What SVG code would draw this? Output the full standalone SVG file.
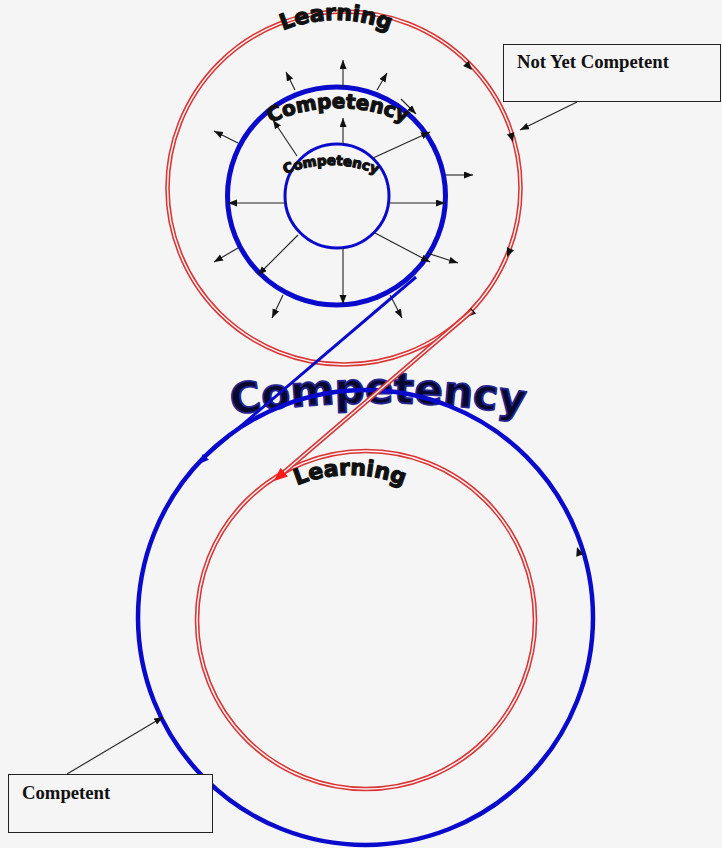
<svg xmlns="http://www.w3.org/2000/svg" xmlns:xlink="http://www.w3.org/1999/xlink" width="722" height="848" viewBox="0 0 722 848">
<style>
.red{fill:none;stroke:#dc3434;stroke-width:4.6}
.gap{fill:none;stroke:#f5f5f5;stroke-width:1.5}
.blue{fill:none;stroke:#0a0acc}
.ray{stroke:#222;stroke-width:1.1;fill:none;marker-end:url(#ah)}
.arc{font-family:"DejaVu Sans","Liberation Sans",sans-serif;font-weight:bold;fill:#111;stroke:#111;stroke-width:1.2;stroke-linejoin:round}
.big{font-family:"DejaVu Sans","Liberation Sans",sans-serif;font-weight:bold;font-size:42px;fill:#08082e;stroke:#25258f;stroke-width:1.8;stroke-linejoin:round}
.box{fill:#f5f5f5;stroke:#222;stroke-width:1}
.lbl{font-family:"Liberation Serif","Times New Roman",serif;font-weight:bold;font-size:18.7px;fill:#111}
</style>
<defs>
<marker id="ah" markerUnits="userSpaceOnUse" markerWidth="10" markerHeight="8" refX="9" refY="3.5" orient="auto">
<path d="M0,0 L9,3.5 L0,7 Z" fill="#111"/>
</marker>
<path id="tri" d="M0,0 L-9,-3.8 L-9,3.8 Z"/>
<path id="pLearnTop" d="M196,160 A140,140 0 0 1 476,160"/>
<path id="pCompMid" d="M178,268 A160,160 0 0 1 498,268"/>
<path id="pCompSmall" d="M211,285 A120,120 0 0 1 451,285"/>
<path id="pCompBig" d="M-522,1303 A900,900 0 0 1 1278,1303"/>
<path id="pLearnBot" d="M210,615 A140,140 0 0 1 490,615"/>
</defs>
<rect x="0" y="0" width="722" height="848" fill="#f5f5f5"/>

<g id="competency-label">
<text class="big"><textPath xlink:href="#pCompBig" startOffset="50%" text-anchor="middle">Competency</textPath></text>
</g>

<g id="bottom-competency-circle">
<circle cx="365.5" cy="617.5" r="227.5" class="blue" stroke-width="4.5"/>
</g>

<g id="bottom-learning-circle">
<circle cx="366" cy="620" r="169" class="red"/>
<circle cx="366" cy="620" r="169" class="gap"/>
<text class="arc" font-size="22"><textPath xlink:href="#pLearnBot" startOffset="50%" text-anchor="middle">Learning</textPath></text>
</g>

<g id="top-learning-circle">
<circle cx="344" cy="188" r="176.5" class="red"/>
<circle cx="344" cy="188" r="176.5" class="gap"/>
<text class="arc" font-size="22"><textPath xlink:href="#pLearnTop" startOffset="50%" text-anchor="middle">Learning</textPath></text>
</g>

<g id="competency-outer-circle">
<circle cx="336.5" cy="196" r="109" class="blue" stroke-width="5"/>
<text class="arc" font-size="20"><textPath xlink:href="#pCompMid" startOffset="50%" text-anchor="middle">Competency</textPath></text>
</g>

<g id="competency-inner-circle">
<circle cx="337" cy="196" r="52" class="blue" stroke-width="3"/>
<text class="arc" font-size="13.5" stroke-width="0.8"><textPath xlink:href="#pCompSmall" startOffset="50%" text-anchor="middle">Competency</textPath></text>
</g>

<g id="not-yet-competent">
<rect x="503.5" y="44.5" width="217" height="57" class="box"/>
<text x="517" y="68" class="lbl">Not Yet Competent</text>
</g>

<g id="competent">
<rect x="8.5" y="774.5" width="204" height="58" class="box"/>
<text x="22" y="799" class="lbl">Competent</text>
</g>

<g id="connectors">
<!-- outer radial arrows -->
<line x1="343" y1="87" x2="343" y2="60" class="ray"/>
<line x1="295" y1="90" x2="286" y2="72" class="ray"/>
<line x1="377" y1="90" x2="387" y2="73" class="ray"/>
<line x1="238" y1="143" x2="214" y2="131" class="ray"/>
<line x1="446" y1="175" x2="473" y2="175" class="ray"/>
<line x1="238" y1="248" x2="214" y2="262" class="ray"/>
<line x1="427" y1="253" x2="458" y2="263" class="ray"/>
<line x1="283" y1="295" x2="272" y2="318" class="ray"/>
<line x1="390" y1="295" x2="402" y2="318" class="ray"/>
<line x1="401" y1="99" x2="416" y2="114" class="ray"/>
<!-- inner radial arrows -->
<line x1="343" y1="144" x2="343" y2="118" class="ray"/>
<line x1="297" y1="156" x2="273" y2="120" class="ray"/>
<line x1="373" y1="158" x2="430" y2="132" class="ray"/>
<line x1="285" y1="203" x2="228" y2="203" class="ray"/>
<line x1="389" y1="203" x2="445" y2="203" class="ray"/>
<line x1="298" y1="235" x2="258" y2="275" class="ray"/>
<line x1="375" y1="233" x2="430" y2="262" class="ray"/>
<line x1="343" y1="248" x2="343" y2="304" class="ray"/>
<!-- direction arrowheads on the circles -->
<g fill="#111">
<use xlink:href="#tri" transform="translate(472,70) rotate(47.3)"/>
<use xlink:href="#tri" transform="translate(513,142) rotate(74.8)"/>
<use xlink:href="#tri" transform="translate(507,257) rotate(112.9)"/>
<use xlink:href="#tri" transform="translate(467,317) rotate(136.4)"/>
<use xlink:href="#tri" transform="translate(577,547) rotate(-108.4)"/>
</g>
<!-- blue connector to bottom circle -->
<line x1="416" y1="277" x2="201" y2="460" stroke="#0a0acc" stroke-width="3"/>
<use xlink:href="#tri" transform="translate(199,464) rotate(133.7) scale(1.1)" fill="#0a0acc"/>
<!-- red connector to bottom learning circle -->
<line x1="472" y1="311" x2="283" y2="473" class="red"/>
<line x1="472" y1="311" x2="283" y2="473" class="gap"/>
<use xlink:href="#tri" transform="translate(274,481) rotate(139.1) scale(1.5)" fill="#ff1a1a"/>
<!-- callout pointers -->
<line x1="577" y1="102" x2="520" y2="130" class="ray"/>
<line x1="67" y1="774" x2="163" y2="717" class="ray"/>
</g>
</svg>
